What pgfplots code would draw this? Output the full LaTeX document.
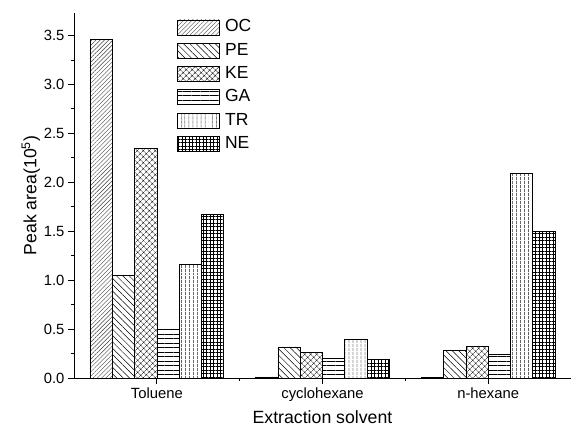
\documentclass[border=0pt]{standalone}
\usepackage{pgfplots}
\pgfplotsset{compat=1.18}
\usepackage{fontspec}
\setmainfont{Liberation Sans}
\usetikzlibrary{patterns.meta}
\begin{document}
\begin{tikzpicture}
\begin{axis}[
  name=ax,
  scale only axis,
  width=497pt, height=365pt,
  ybar=0pt, bar width=22.3pt,
  xmin=-0.5, xmax=2.5,
  ymin=0, ymax=3.73,
  axis x line=bottom, axis y line=left,
  axis line style={-, line width=0.8pt},
  xtick={0,1,2},
  xticklabels={Toluene, cyclohexane, n-hexane},
  minor xtick={0.5,1.5},
  ytick={0,0.5,...,3.5},
  minor y tick num=1,
  tick align=outside,
  major tick length=6pt, minor tick length=3pt,
  tick style={line width=0.8pt, black},
  /pgf/number format/assume math mode=true,
  yticklabel style={/pgf/number format/fixed, /pgf/number format/precision=1, /pgf/number format/fixed zerofill},
  ticklabel style={font=\fontsize{14.8}{14.8}\selectfont},
  xlabel={Extraction solvent},
  ylabel={Peak area(10\textsuperscript{5})},
  label style={font=\fontsize{17.7}{17.7}\selectfont},
  xlabel style={yshift=-2pt},
  ylabel style={yshift=-3pt},
  clip=false,
  legend image code/.code={\draw[#1, line width=0.6pt] (0pt,-7.5pt) rectangle (42.6pt,7.5pt);},
  legend style={at={(rel axis cs:0.2066,0.9827)}, anchor=north west, draw=none, fill=none,
    font=\fontsize{17.5}{17.5}\selectfont, inner sep=0pt, row sep=7.7pt,
    nodes={inner xsep=5pt, inner ysep=0pt, text height=12pt, text depth=3pt}},
  legend cell align=left,
  every axis plot/.append style={draw=black, line width=0.6pt},
]
\addplot[pattern={Lines[angle=45,distance=3pt,line width=0.4pt]}, pattern color=black!75] coordinates {(0,3.46) (1,0.012) (2,0.006)};
\addplot[pattern={Lines[angle=-45,distance=4.5pt,line width=0.5pt]}] coordinates {(0,1.05) (1,0.317) (2,0.28)};
\addplot[pattern={Hatch[angle=45,distance=4pt,line width=0.45pt]}] coordinates {(0,2.35) (1,0.259) (2,0.32)};
\addplot[pattern={Lines[angle=0,distance=4.5pt,line width=0.45pt]}] coordinates {(0,0.50) (1,0.20) (2,0.24)};
\addplot[pattern={Lines[angle=90,distance=4pt,line width=0.45pt]}] coordinates {(0,1.16) (1,0.396) (2,2.09)};
\addplot[pattern={Hatch[angle=0,distance=3.5pt,line width=0.45pt]}] coordinates {(0,1.67) (1,0.19) (2,1.50)};
\legend{OC,PE,KE,GA,TR,NE}
\end{axis}
\pgfresetboundingbox
\path ([shift={(-74pt,-55pt)}]ax.south west) rectangle ([shift={(0pt,13pt)}]ax.north east);
\end{tikzpicture}
\end{document}
